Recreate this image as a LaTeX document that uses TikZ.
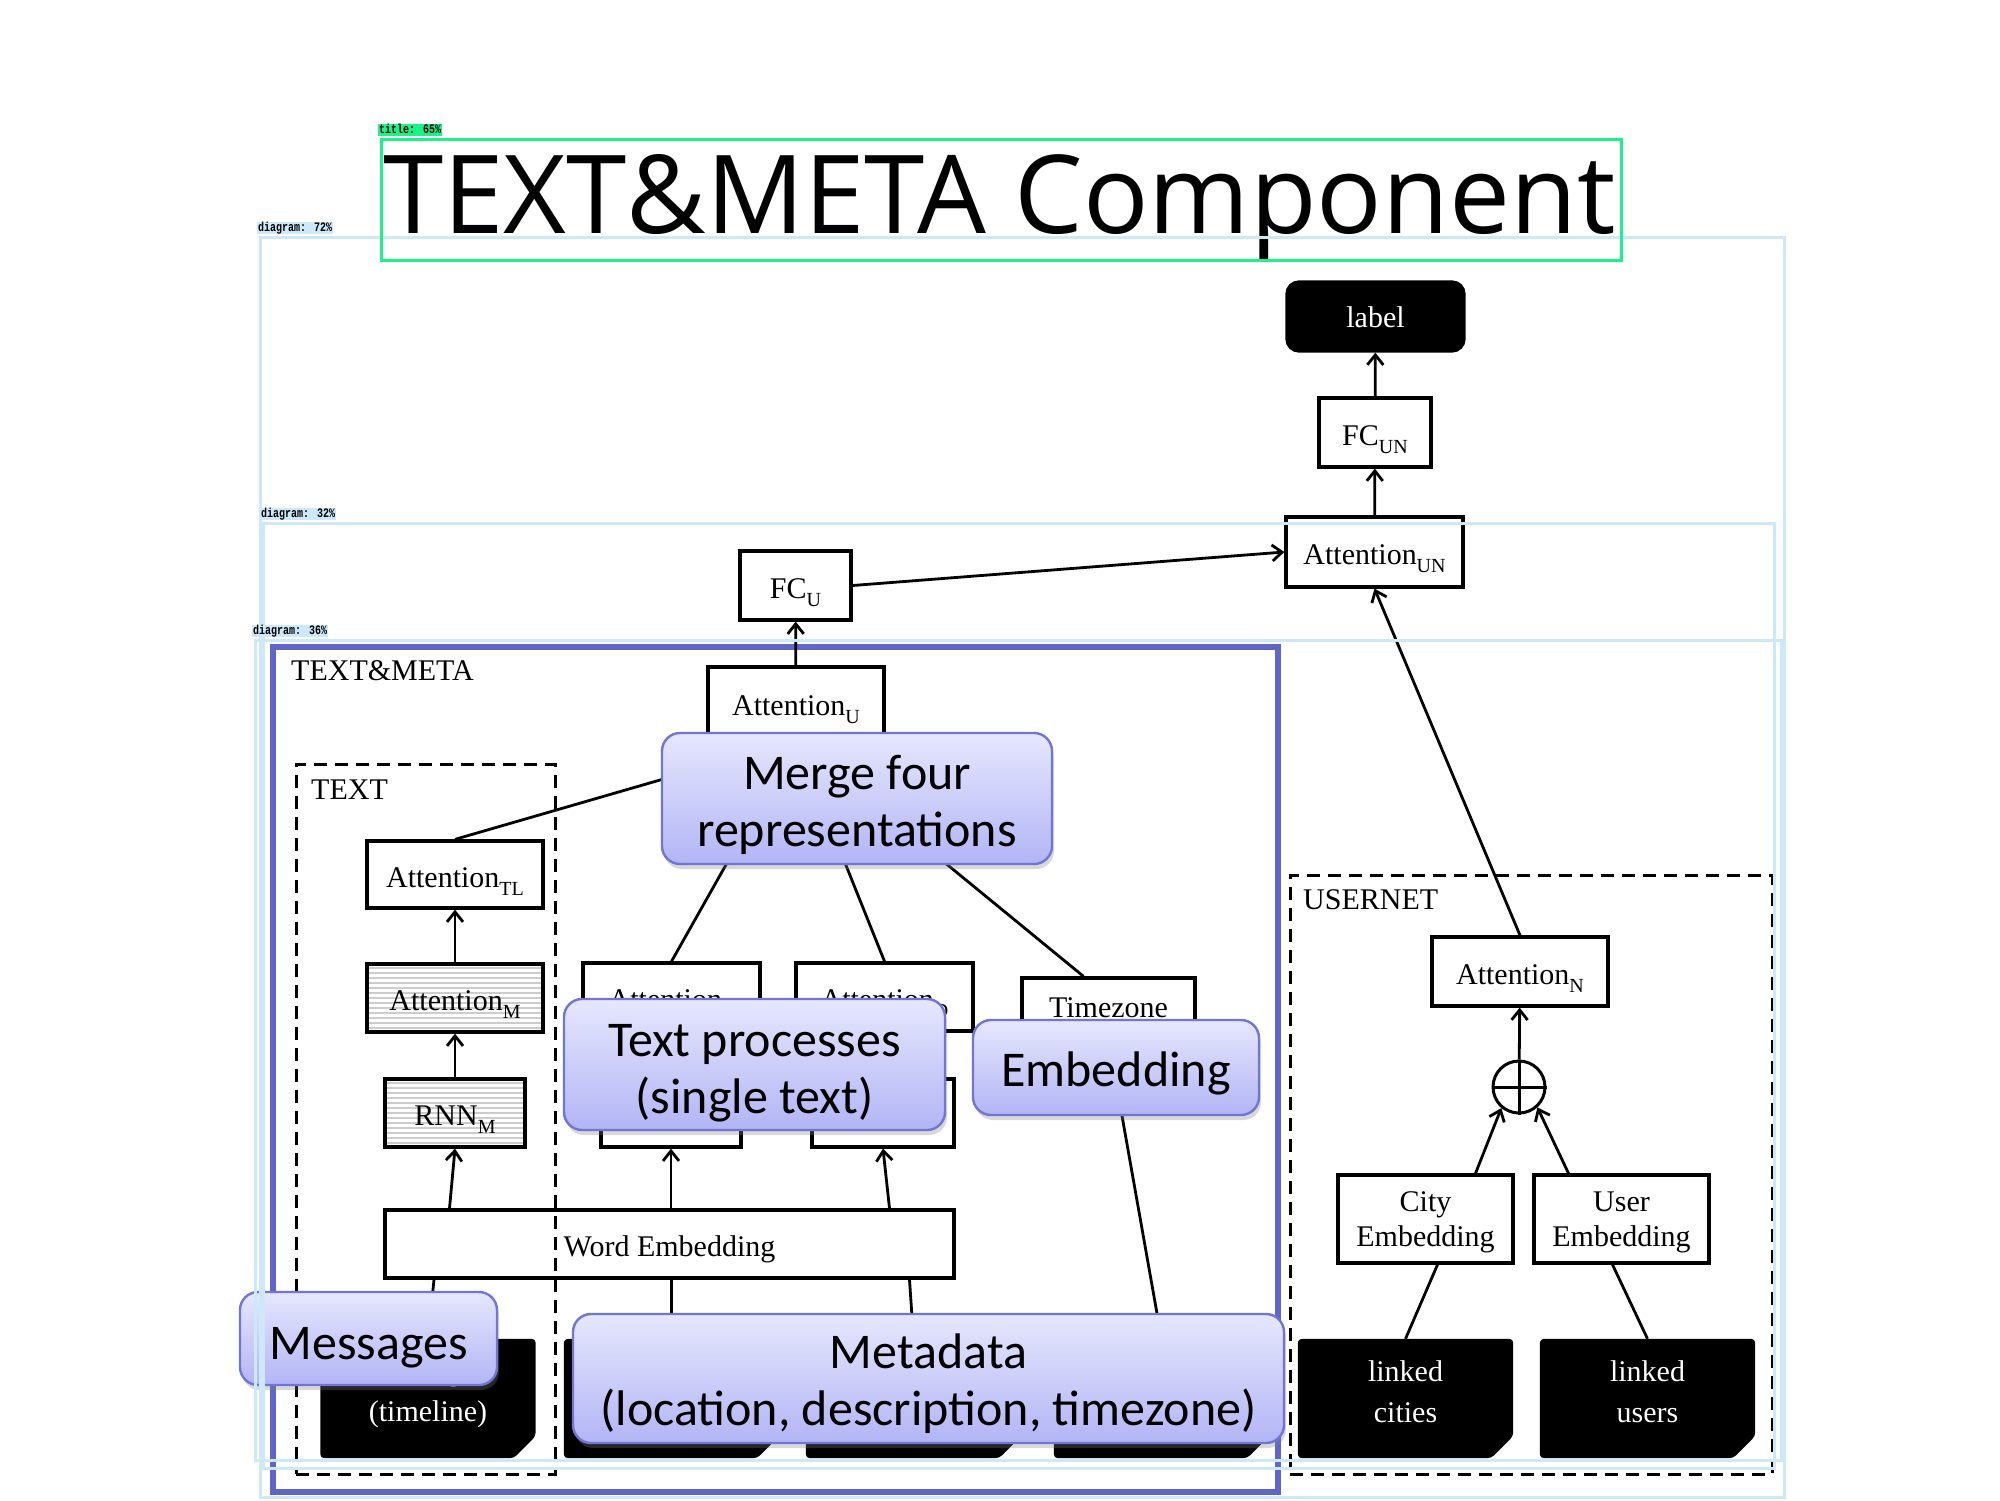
\documentclass[tikz,border=0pt]{standalone}
\usepackage{fontspec}
\setmainfont{Liberation Serif}
\newfontfamily\callfont{Carlito}
\newfontfamily\titlefont{Open Sans}
\newfontfamily\annfont{Liberation Mono}
\usetikzlibrary{arrows.meta,shadows,calc}
\definecolor{tmblue}{HTML}{6066C8}
\definecolor{cTop}{HTML}{E6E7FD}
\definecolor{cBot}{HTML}{B2B5F5}
\definecolor{cBorder}{HTML}{7176D4}
\definecolor{ovblue}{HTML}{CDE8F9}
\definecolor{ovgreen}{HTML}{1AF28A}
\newcommand{\sbs}[1]{\raisebox{-8pt}{\fontsize{20pt}{20pt}\selectfont #1}}
\newcommand{\docat}[3]{%
  \node[docbox] (#1) at (#2,#3) {};
  \fill[black, rounded corners=4pt] (#1.north west) -- (#1.north east) -- ([yshift=22pt]#1.south east) -- ([xshift=-22pt]#1.south east) -- (#1.south west) -- cycle;}
\begin{document}
\begin{tikzpicture}[x=1pt,y=-1pt,
  every node/.style={font=\fontsize{30pt}{35pt}\selectfont, inner sep=0pt},
  sz/.style 2 args={minimum width=#1pt, minimum height=#2pt},
  bx/.style={draw, line width=3.3pt, fill=white},
  lowtext/.style={text height=25pt, text depth=0pt},
  hatch/.style={path picture={\foreach \k in {1,...,14}{\draw[gray!40, line width=2.4pt] ([yshift=-\k*5pt+1pt]path picture bounding box.north west) -- ([yshift=-\k*5pt+1pt]path picture bounding box.north east);}}},
  ln/.style={line width=2.8pt},
  ar/.style={line width=2.8pt, -{Straight Barb[length=10pt,width=16pt]}},
  dashbox/.style={draw, line width=3pt, dash pattern=on 13pt off 8pt},
  docbox/.style={sz={215}{119}},
  doctext/.style={text=white, align=center, font=\fontsize{30pt}{41pt}\selectfont},
  callout/.style={draw=cBorder, line width=2.4pt, rounded corners=18pt, top color=cTop, bottom color=cBot, drop shadow={shadow xshift=2pt, shadow yshift=-5pt, opacity=0.3}},
  calltext/.style={align=center, font=\callfont\fontsize{50pt}{57pt}\selectfont},
  ovbox/.style={draw=ovblue, line width=3pt},
  ovlabel/.style={fill=ovblue, anchor=south west, inner xsep=1pt, inner ysep=1pt, text height=8pt, text depth=1.5pt, font=\annfont\bfseries\fontsize{10pt}{10pt}\selectfont}
]
\useasboundingbox (0,0) rectangle (2000,1500);
\fill[white] (0,0) rectangle (2000,1500);

% title
\node[anchor=base west] (title) at (383,233) {\resizebox{1232pt}{79pt}{\titlefont TEXT\&META Component}};

% TEXT&META container
\node[draw=tmblue, line width=6pt, sz={1005}{845}] (tmbox) at (775.5,1069.5) {};
\node[anchor=west] (tmlabel) at (291,671) {TEXT\&META};

% top chain
\node[bx, sz={177}{69}, fill=black, rounded corners=12pt, text=white, text height=22pt, text depth=0pt] (lbl) at (1375.5,316.5) {label};
\node[bx, lowtext, sz={112}{69}] (fcun) at (1375,432.5) {FC\sbs{UN}};
\node[bx, lowtext, sz={177}{70}] (attun) at (1374.5,552) {Attention\sbs{UN}};
\node[bx, lowtext, sz={111}{69}] (fcu) at (795.5,585.5) {FC\sbs{U}};
\node[bx, lowtext, sz={176}{72}] (attu) at (796,703) {Attention\sbs{U}};

% TEXT part
\node[bx, lowtext, sz={176}{67}] (atttl) at (455,874.5) {Attention\sbs{TL}};
\node[bx, lowtext, hatch, sz={176}{68}] (attm) at (455,998) {Attention\sbs{M}};
\node[bx, lowtext, hatch, sz={140}{68}] (rnnm) at (455,1113) {RNN\sbs{M}};

% metadata representation boxes
\node[bx, lowtext, sz={177}{68}] (attl) at (671.5,997) {Attention\sbs{L}};
\node[bx, lowtext, sz={177}{68}] (attd) at (884.5,997) {Attention\sbs{D}};
\node[bx, sz={140}{68}] (rnnl) at (671,1113) {};
\node[bx, sz={142}{68}] (rnnd) at (883,1113) {};
\node[bx, sz={173}{60}] (tz) at (1108.5,1008) {Timezone};
\node[bx, lowtext, sz={569}{68}] (wemb) at (669.5,1244) {Word Embedding};

% USERNET part
\node[bx, lowtext, sz={176}{69}] (attn) at (1520,971.5) {Attention\sbs{N}};
\node[draw, circle, line width=3pt, minimum size=52pt, fill=white] (plus) at (1519,1087) {};
\draw[line width=3pt] (plus.north) -- (plus.south) (plus.west) -- (plus.east);
\node[bx, sz={175}{88}, align=center, text depth=0pt] (cityemb) at (1425.5,1219) {City\\Embedding};
\node[bx, sz={175}{88}, align=center, text depth=0pt] (useremb) at (1621.5,1219) {User\\Embedding};

% input documents
\docat{docmsg}{428}{1398.5}
\docat{docloc}{671.5}{1398.5}
\docat{docdesc}{913.5}{1398.5}
\docat{doctz}{1161.5}{1398.5}
\docat{doccity}{1405.5}{1398.5}
\docat{docuser}{1647.5}{1398.5}
\node[doctext] (docmsgt) at ([yshift=4pt]docmsg.center) {Messages\\(timeline)};
\node[doctext] (doccityt) at ([yshift=7pt]doccity.center) {linked\\cities};
\node[doctext] (docusert) at ([yshift=7pt]docuser.center) {linked\\users};

% connectors
\draw[ar] (fcun) -- (lbl);
\draw[ar] (attun) -- (fcun);
\draw[ar] (fcu.east) -- (attun.west);
\draw[ar] (attu) -- (fcu);
\draw[ar] (attn.north) -- (attun.south);
\draw[ar] (plus) -- (attn);
\draw[ar] ([xshift=50pt]cityemb.north) -- (plus.230);
\draw[ar] ([xshift=-53pt]useremb.north) -- (plus.312);
\draw[ln] (doccity.north) -- ([xshift=12pt]cityemb.south);
\draw[ln] (docuser.north) -- ([xshift=-9pt]useremb.south);
\draw[ar] (rnnm) -- (attm);
\draw[ar] (attm) -- (atttl);
\draw[ar] ([xshift=-220pt]wemb.north) -- (rnnm.south);
\draw[ar] (rnnl.south |- wemb.north) -- (rnnl.south);
\draw[ar] ([xshift=220pt]wemb.north) -- (rnnd.south);
\draw[ln] (atttl.north) -- (attu.south);
\draw[ln] (attl.north) -- (attu.south);
\draw[ln] (attd.north) -- (attu.south);
\draw[ln] ([xshift=-25pt]tz.north) -- (attu.south);
\draw[ln] (doctz.north) -- (tz.south);
\draw[ln] (docloc.north) -- (docloc.north |- wemb.south);
\draw[ln] (docdesc.north) -- ([xshift=-4pt]docdesc.north |- wemb.south);
\draw[ln] (docmsg.north) -- ([xshift=6pt]docmsg.north |- wemb.south);

% dashed containers
\node[dashbox, sz={259}{710}] (textbox) at (425.5,1119) {};
\node[anchor=west] (textlabel) at (311,790) {TEXT};
\node[dashbox, sz={482}{599}] (usernet) at (1531,1174.5) {};
\node[anchor=west] (userlabel) at (1303,900) {USERNET};

% callouts
\node[callout, sz={390}{131}] (merge) at (857,798.5) {};
\node[calltext] (merget) at ([yshift=-6pt]merge.center) {Merge four\\representations};
\node[callout, sz={381}{131}] (textproc) at (754.5,1064.5) {};
\node[calltext] (textproct) at ([yshift=-9pt]textproc.center) {Text processes\\(single text)};
\node[callout, sz={286}{95}] (embed) at (1116,1067.5) {};
\node[calltext] (embedt) at ([yshift=-6pt]embed.center) {Embedding};
\node[callout, sz={257}{93}] (messages) at (368.5,1338.5) {};
\node[calltext] (messagest) at ([yshift=-9pt]messages.center) {Messages};
\node[callout, sz={711}{129}] (metadata) at (928.5,1378.5) {};
\node[calltext] (metadatat) at ([yshift=-5pt]metadata.center) {Metadata\\(location, description, timezone)};

% detection overlays
\node[ovbox, sz={1524}{1260}] (ov72) at (1022,867) {};
\node[ovlabel] (ov72l) at ([xshift=-1.5pt,yshift=1.5pt]ov72.north west) {\scalebox{1}[1.3]{diagram: 72\%}};
\node[ovbox, sz={1511}{945}] (ov32) at (1018.5,995.5) {};
\node[ovlabel] (ov32l) at ([xshift=-1.5pt,yshift=1.5pt]ov32.north west) {\scalebox{1}[1.3]{diagram: 32\%}};
\node[ovbox, sz={1526}{820}] (ov36) at (1018,1050) {};
\node[ovlabel] (ov36l) at ([xshift=-1.5pt,yshift=1.5pt]ov36.north west) {\scalebox{1}[1.3]{diagram: 36\%}};
\node[draw=ovgreen, line width=3pt, sz={1240}{121}] (ovtitle) at (1001,199.5) {};
\node[ovlabel, fill=ovgreen] (ovtitlel) at ([xshift=-1.5pt,yshift=1.5pt]ovtitle.north west) {\scalebox{1}[1.3]{title: 65\%}};
\end{tikzpicture}
\end{document}
